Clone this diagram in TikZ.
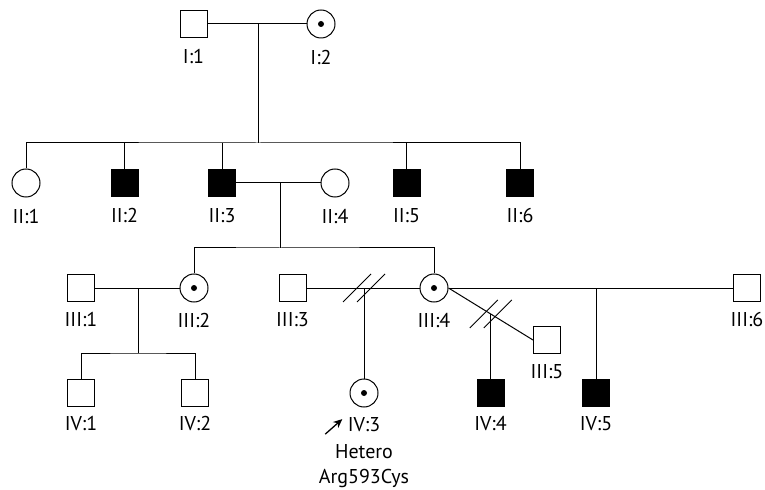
\documentclass[tikz,border=0pt]{standalone}
\usepackage{fontspec}
\setmainfont{PT Sans}
\usetikzlibrary{positioning,calc,arrows.meta}

\begin{document}
\begin{tikzpicture}[x=1bp, y=-1bp, line width=1bp,
    male/.style={draw, rectangle, minimum size=27bp, inner sep=0pt},
    female/.style={draw, circle, minimum size=28bp, inner sep=0pt},
    affected/.style={male, fill=black},
    carrier/.style={female, path picture={\fill (path picture bounding box.center) circle (3bp);}},
    tag/.style={font=\fontsize{20bp}{23bp}\selectfont, inner sep=0pt},
    divorce/.style={line width=0.9bp},
    proband/.style={-{Stealth[length=9bp,width=8bp]}, line width=1.3bp}]
    \useasboundingbox (0,0) rectangle (765,490);

    % Generation I
    \node[male] (i1) at (193.5,24) {};
    \node[carrier] (i2) at (321,24) {};
    \node[tag, below=11bp of i1] (t-i1) {I:1};
    \node[tag, below=11bp of i2] (t-i2) {I:2};

    % Generation II
    \node[female] (ii1) at (26,183) {};
    \node[affected] (ii2) at (124.5,183) {};
    \node[affected] (ii3) at (222,183) {};
    \node[female] (ii4) at (335,183) {};
    \node[affected] (ii5) at (406.5,183) {};
    \node[affected] (ii6) at (520,183) {};
    \foreach \n/\t in {ii1/II:1, ii2/II:2, ii3/II:3, ii4/II:4, ii5/II:5, ii6/II:6}
        \node[tag, below=11bp of \n] (t-\n) {\t};

    % Generation III
    \node[male] (iii1) at (81,288) {};
    \node[carrier] (iii2) at (194,288) {};
    \node[male] (iii3) at (292.5,288) {};
    \node[carrier] (iii4) at (434,288) {};
    \node[male] (iii5) at (547,340) {};
    \node[male] (iii6) at (747,288) {};
    \foreach \n/\t in {iii1/III:1, iii2/III:2, iii3/III:3, iii4/III:4, iii5/III:5, iii6/III:6}
        \node[tag, below=10bp of \n] (t-\n) {\t};

    % Generation IV
    \node[male] (iv1) at (81,393) {};
    \node[male] (iv2) at (195,393) {};
    \node[carrier] (iv3) at (364,393) {};
    \node[affected] (iv4) at (490.5,393) {};
    \node[affected] (iv5) at (596,393) {};
    \foreach \n/\t in {iv1/IV:1, iv2/IV:2, iv3/IV:3, iv4/IV:4, iv5/IV:5}
        \node[tag, below=9bp of \n] (t-\n) {\t};
    \node[tag, align=center, font=\fontsize{20bp}{25bp}\selectfont, below=12bp of t-iv3] (t-note) {Hetero\\Arg593Cys};
    \draw[proband] ($(t-iv3.west)+(-22,10)$) -- ($(t-iv3.west)+(-5,-5)$);

    % I:1 x I:2
    \draw (i1) -- (i2);
    \coordinate (m1) at (258,24);
    \coordinate (s1) at (258,143);
    \draw (m1) -- (s1);
    \draw (ii1) |- (s1) -| (ii6);
    \foreach \n in {ii2,ii3,ii5}
        \draw (\n) -- (\n |- s1);

    % II:3 x II:4
    \draw (ii3) -- (ii4);
    \coordinate (m2) at (280,183);
    \coordinate (s2) at (280,248);
    \draw (m2) -- (s2);
    \draw (iii2) |- (s2) -| (iii4);

    % III:1 x III:2
    \draw (iii1) -- (iii2);
    \coordinate (m3) at (138,288);
    \coordinate (s3) at (138,353);
    \draw (m3) -- (s3);
    \draw (iv1) |- (s3) -| (iv2);

    % III:4 with three partners
    \draw (iii3) -- (iii4);
    \coordinate (m4) at (364,288);
    \draw (m4) -- (iv3);
    \draw (iii4) -- (iii6);
    \coordinate (m5) at (596,288);
    \draw (m5) -- (iv5);
    \draw (iii4.east) -- (iii5.west);
    \coordinate (m6) at ($(iii4.east)!0.5!(iii5.west)$);
    \draw (m6) -- (m6 |- iv4.north);

    % separated couples
    \foreach \c in {m4,m6}
        \foreach \dx in {-7,7}
            \draw[divorce] ($(\c)+(\dx,0)+(-14,14)$) -- ++(28,-28);
\end{tikzpicture}
\end{document}
